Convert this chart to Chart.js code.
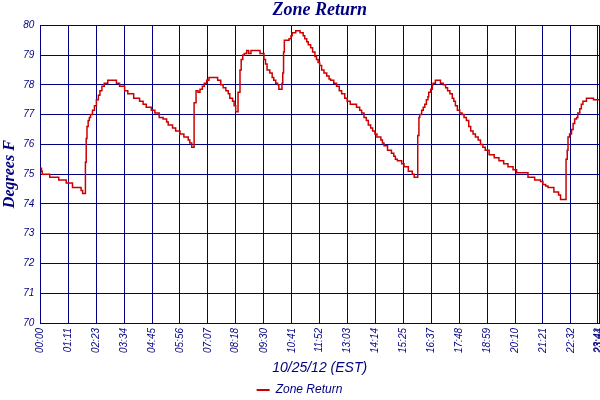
<!DOCTYPE html>
<html><head><meta charset="utf-8">
<script src="https://cdn.jsdelivr.net/npm/chart.js@4"></script>
<style>html,body{margin:0;padding:0;background:#fff}</style>
</head><body>
<canvas id="c" width="600" height="400"></canvas>
<script>
const chartTitle = 'Zone Return';
const seriesName = 'Zone Return';
const xAxisTitle = '10/25/12 (EST)';
const yAxisTitle = 'Degrees F';
const xTickLabels = ['00:00','01:11','02:23','03:34','04:45','05:56','07:07','08:18','09:30','10:41','11:52',
  '13:03','14:14','15:25','16:37','17:48','18:59','20:10','21:21','22:32','23:41','23:44'];
const yMin = 70, yMax = 80;
// minutes since 00:00
const minutes = [
  0,3,5,24,47,66,82,104,108,115,
  117,119,122,125,128,133,138,143,148,152,
  157,163,172,194,202,215,223,238,253,262,
  270,283,292,303,313,322,326,337,345,356,
  366,377,381,386,392,397,402,407,413,418,
  424,430,452,460,466,473,479,483,490,494,
  498,504,509,512,516,520,526,531,537,560,
  570,574,578,585,591,595,600,605,608,616,
  618,620,622,634,639,642,651,662,670,674,
  679,683,689,694,700,704,708,712,717,723,
  730,736,740,748,755,762,768,776,782,790,
  806,814,819,825,831,836,842,847,853,858,
  868,872,876,885,895,901,905,910,921,927,
  938,948,953,962,965,967,972,976,980,984,
  988,990,995,999,1001,1007,1020,1027,1033,1038,
  1044,1050,1054,1058,1063,1069,1075,1080,1086,1092,
  1097,1103,1109,1116,1122,1128,1134,1144,1157,1169,
  1181,1192,1205,1214,1243,1260,1275,1281,1288,1294,
  1309,1321,1326,1340,1343,1345,1349,1354,1358,1362,
  1367,1370,1375,1379,1383,1392,1410,1424
];
const zoneReturn = [
  75.2,75.1,75.0,74.9,74.8,74.7,74.55,74.45,74.35,75.4,
  76.2,76.6,76.8,76.9,77.0,77.15,77.3,77.5,77.65,77.8,
  77.95,78.05,78.15,78.05,77.95,77.8,77.7,77.55,77.45,77.35,
  77.25,77.15,77.05,76.9,76.85,76.75,76.65,76.55,76.45,76.35,
  76.25,76.15,76.05,75.9,77.4,77.8,77.75,77.85,77.95,78.05,
  78.15,78.25,78.15,78.0,77.9,77.8,77.7,77.55,77.45,77.3,
  77.1,77.75,78.5,78.85,79.0,79.05,79.15,79.05,79.15,79.05,
  78.85,78.7,78.5,78.4,78.25,78.15,78.05,78.0,77.85,78.05,
  78.4,79.1,79.5,79.55,79.65,79.75,79.82,79.75,79.65,79.55,
  79.45,79.35,79.25,79.1,78.95,78.85,78.75,78.65,78.5,78.4,
  78.3,78.2,78.15,78.05,77.95,77.8,77.7,77.55,77.45,77.35,
  77.25,77.15,77.05,76.9,76.8,76.65,76.55,76.45,76.35,76.25,
  76.15,76.05,75.95,75.8,75.7,75.6,75.5,75.45,75.35,75.25,
  75.1,75.0,74.9,76.3,76.9,77.0,77.15,77.25,77.35,77.5,
  77.6,77.75,77.85,78.0,78.05,78.15,78.05,78.0,77.9,77.8,
  77.7,77.55,77.45,77.3,77.15,77.05,77.0,76.9,76.8,76.6,
  76.45,76.35,76.25,76.15,76.0,75.9,75.8,75.65,75.55,75.45,
  75.35,75.25,75.15,75.05,74.9,74.8,74.75,74.65,74.6,74.55,
  74.4,74.3,74.15,75.5,75.8,76.25,76.35,76.5,76.7,76.85,
  76.9,77.05,77.2,77.35,77.45,77.55,77.5,77.5
];

const NAVY = '#000080';
const RED = '#cc0000';
const toMin = s => { const [h, m] = s.split(':').map(Number); return h * 60 + m; };
const xTickMinutes = xTickLabels.map(toMin);
const points = minutes.map((m, i) => ({ x: m, y: zoneReturn[i] }));

new Chart(document.getElementById('c'), {
  type: 'line',
  data: { datasets: [{
    label: seriesName,
    data: points,
    stepped: true,
    borderColor: RED,
    backgroundColor: RED,
    borderWidth: 1.5,
    pointRadius: 0,
    fill: false
  }]},
  options: {
    responsive: false,
    animation: false,
    devicePixelRatio: 1,
    layout: { padding: { right: 1, bottom: -6 } },
    plugins: {
      title: {
        display: true, text: chartTitle, fullSize: false, color: NAVY,
        font: { family: 'Liberation Serif', size: 18, weight: 'bold', style: 'italic' },
        padding: { top: 0, bottom: 3.7 }
      },
      legend: {
        position: 'bottom',
        labels: {
          color: NAVY, boxWidth: 13, boxHeight: 2, padding: 4,
          font: { family: 'Liberation Sans', size: 12, style: 'italic' },
          generateLabels: ch => Chart.defaults.plugins.legend.labels.generateLabels(ch).map(l => Object.assign(l, { lineWidth: 0 }))
        }
      },
      tooltip: { enabled: false }
    },
    scales: {
      x: {
        type: 'linear', min: 0, max: xTickMinutes[xTickMinutes.length - 1],
        afterBuildTicks: s => { s.ticks = xTickMinutes.map(v => ({ value: v })); },
        afterFit: s => { s.paddingLeft = 0; s.paddingRight = 0; s.height = 57; },
        ticks: {
          autoSkip: false, maxRotation: 90, minRotation: 90, padding: 5, color: NAVY,
          font: { family: 'Liberation Sans', size: 10, style: 'italic' },
          callback: (v, i) => xTickLabels[i]
        },
        grid: { color: NAVY, lineWidth: 1, drawTicks: false },
        border: { color: NAVY, width: 1 },
        title: {
          display: true, text: xAxisTitle, color: NAVY,
          font: { family: 'Liberation Sans', size: 14, style: 'italic' },
          padding: { top: 7, bottom: 3 }
        }
      },
      y: {
        min: yMin, max: yMax,
        afterFit: s => { s.width = 40.3; },
        ticks: { stepSize: 1, padding: 6, color: NAVY,
          font: { family: 'Liberation Sans', size: 10, style: 'italic' } },
        grid: { color: NAVY, lineWidth: 1, drawTicks: false },
        border: { color: NAVY, width: 1 },
        title: {
          display: true, text: yAxisTitle, color: NAVY,
          font: { family: 'Liberation Serif', size: 16, weight: 'bold', style: 'italic' },
          padding: { top: 0, bottom: 4 }
        }
      }
    }
  }
});
</script>
</body></html>
